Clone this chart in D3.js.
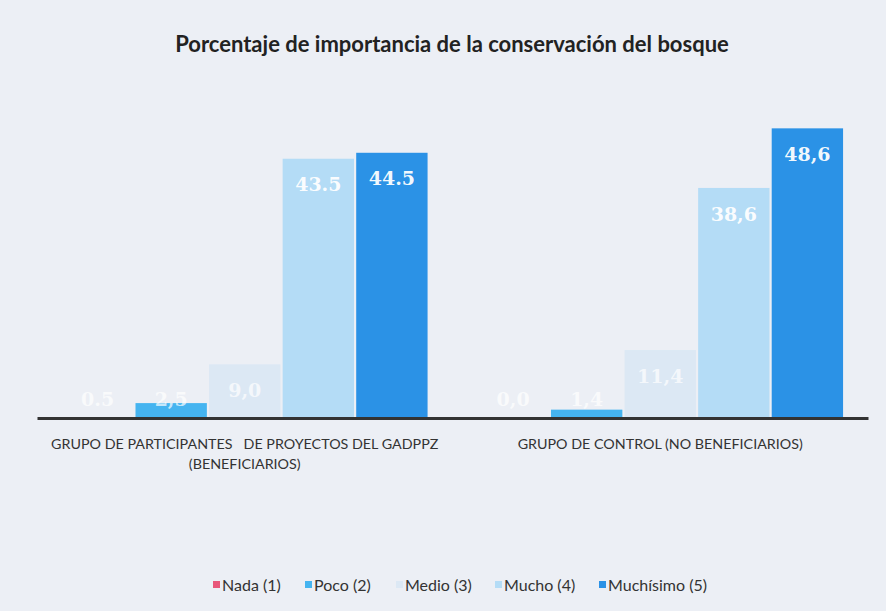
<!DOCTYPE html>
<html>
<head>
<meta charset="utf-8">
<script src="https://cdn.jsdelivr.net/npm/d3@7"></script>
<style>
  body { margin: 0; background: #eceff5; }
  svg { display: block; }
</style>
</head>
<body>
<div id="container"></div>
<script>
'use strict';

// data
var groups = ['beneficiarios', 'control'];
var groupLabels = [
  ['GRUPO DE PARTICIPANTES   DE PROYECTOS DEL GADPPZ', '(BENEFICIARIOS)'],
  ['GRUPO DE CONTROL (NO BENEFICIARIOS)']
];
var series = ['Nada (1)', 'Poco (2)', 'Medio (3)', 'Mucho (4)', 'Muchísimo (5)'];
var valuesBeneficiarios = [0.0, 2.5, 9.0, 43.5, 44.5];
var valuesControl = [0.0, 1.4, 11.4, 38.6, 48.6];
var labelsBeneficiarios = ['0.5', '2,5', '9,0', '43.5', '44.5'];
var labelsControl = ['0,0', '1,4', '11,4', '38,6', '48,6'];
var colors = ['#e8577a', '#45b4f0', '#dce8f4', '#b4dcf6', '#2b92e6'];

var width = 886, height = 611;
var chart = {};
chart.margin = {top: 0, right: 18, bottom: 0, left: 37};
chart.baseline = 418;

var svg = d3.select('#container').append('svg')
  .attr('width', width)
  .attr('height', height);

svg.append('rect')
  .attr('width', width)
  .attr('height', height)
  .attr('fill', '#eceff5');

svg.append('text')
  .attr('x', 452)
  .attr('y', 52)
  .attr('text-anchor', 'middle')
  .style('font-family', 'Lato, sans-serif')
  .style('font-weight', 'bold')
  .style('font-size', '22px')
  .style('fill', '#222')
  .text('Porcentaje de importancia de la conservación del bosque');

var x0 = d3.scaleBand()
  .domain(groups)
  .range([chart.margin.left, width - chart.margin.right])
  .paddingInner(0.12)
  .paddingOuter(0.06);

var x1 = d3.scaleBand()
  .domain(series)
  .range([0, x0.bandwidth()])
  .paddingInner(0.03);

var y = d3.scaleLinear()
  .domain([0, 50])
  .range([chart.baseline, chart.baseline - 50 * 5.96]);

var rows = [
  {group: 'beneficiarios', values: valuesBeneficiarios, labels: labelsBeneficiarios},
  {group: 'control', values: valuesControl, labels: labelsControl}
];

var g = svg.selectAll('g.group')
  .data(rows)
  .enter().append('g')
  .attr('class', 'group')
  .attr('transform', function(d) { return 'translate(' + x0(d.group) + ',0)'; });

var cells = function(d) {
  return series.map(function(s, i) {
    return {key: s, value: d.values[i], label: d.labels[i], i: i};
  });
};

g.selectAll('rect.bar')
  .data(cells)
  .enter().append('rect')
  .attr('class', 'bar')
  .attr('x', function(d) { return x1(d.key); })
  .attr('width', x1.bandwidth())
  .attr('y', function(d) { return y(d.value); })
  .attr('height', function(d) { return chart.baseline - y(d.value); })
  .attr('fill', function(d) { return colors[d.i]; });

g.selectAll('text.val')
  .data(cells)
  .enter().append('text')
  .attr('class', 'val')
  .attr('x', function(d) { return x1(d.key) + x1.bandwidth() / 2; })
  .attr('y', function(d) { return Math.min(y(d.value) + 26, chart.baseline - 19); })
  .attr('dy', '0.35em')
  .attr('text-anchor', 'middle')
  .style('font-family', '"DejaVu Serif", serif')
  .style('font-weight', 'bold')
  .style('font-size', '19px')
  .style('fill', '#fff')
  .style('fill-opacity', function(d) { return d.value < 15 ? 0.7 : 0.95; })
  .text(function(d) { return d.label; });

// baseline axis
var xAxis = d3.axisBottom(x0).tickSize(0).tickFormat('');
svg.append('g')
  .attr('transform', 'translate(0,' + chart.baseline + ')')
  .call(xAxis)
  .call(function(a) {
    a.select('.domain').attr('stroke', '#333').attr('stroke-width', 3);
  });

// category labels
svg.selectAll('text.cat')
  .data(rows)
  .enter().append('text')
  .attr('class', 'cat')
  .attr('x', function(d) { return x0(d.group) + x0.bandwidth() / 2; })
  .attr('y', 449)
  .attr('text-anchor', 'middle')
  .attr('xml:space', 'preserve')
  .style('font-family', 'Lato, sans-serif')
  .style('font-size', '14.3px')
  .style('fill', '#333')
  .style('white-space', 'pre')
  .each(function(d, i) {
    var t = d3.select(this);
    groupLabels[i].forEach(function(line, j) {
      t.append('tspan')
        .attr('x', x0(d.group) + x0.bandwidth() / 2)
        .attr('dy', j === 0 ? 0 : 20)
        .text(line);
    });
  });

/* ------- LEGEND -------*/
var legendX = [213, 305, 396, 495, 599];
var legend = svg.selectAll('g.legend')
  .data(series)
  .enter().append('g')
  .attr('class', 'legend')
  .attr('transform', function(d, i) { return 'translate(' + legendX[i] + ',585)'; });

legend.append('rect')
  .attr('x', 0)
  .attr('y', -4)
  .attr('width', 7)
  .attr('height', 7)
  .attr('fill', function(d, i) { return colors[i]; });

legend.append('text')
  .attr('x', 9)
  .attr('y', 0)
  .attr('dy', '0.35em')
  .style('font-family', 'Lato, sans-serif')
  .style('font-size', '16px')
  .style('fill', '#333')
  .text(function(d) { return d; });
</script>
</body>
</html>
